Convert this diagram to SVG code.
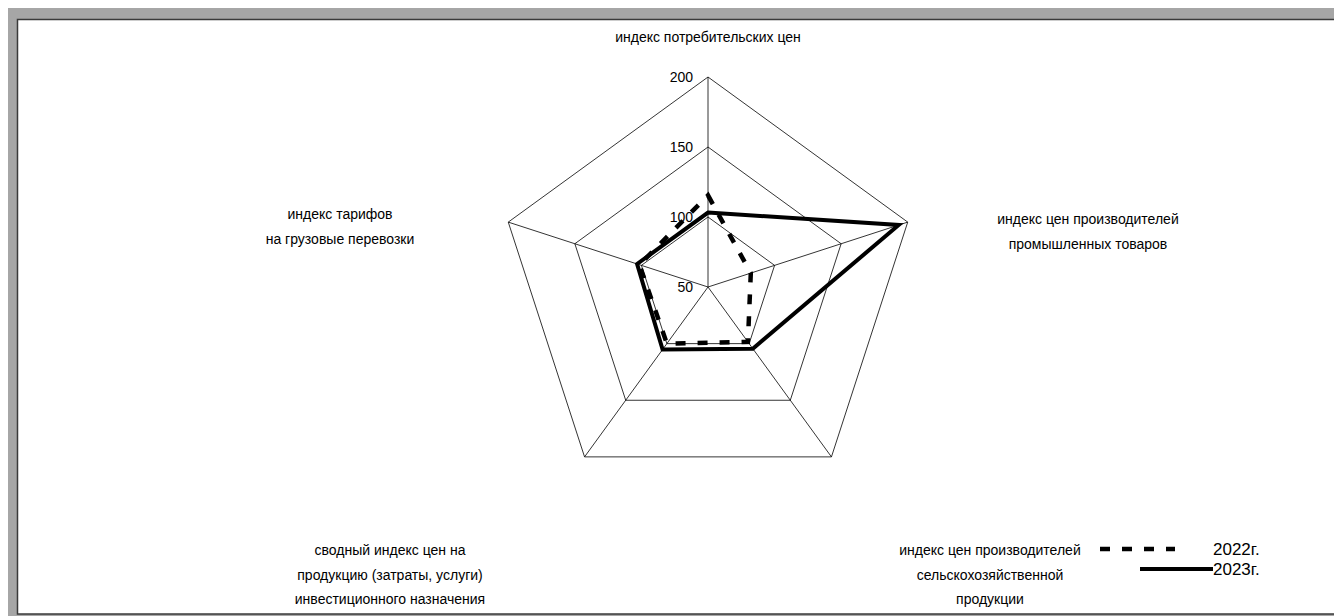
<svg xmlns="http://www.w3.org/2000/svg" width="1334" height="616" viewBox="0 0 1334 616">
<style>
text{font-family:"Liberation Sans",Arial,sans-serif;fill:#000}
.lbl{font-size:14px;text-anchor:middle}
.ax{font-size:14px;text-anchor:end}
.leg{font-size:17px}
.grid{fill:none;stroke:#000;stroke-width:0.8}
.s22{fill:none;stroke:#000;stroke-width:4.5;stroke-dasharray:10,12;stroke-linejoin:miter}
.s23{fill:none;stroke:#000;stroke-width:4;stroke-linejoin:miter}
</style>
<rect x="0" y="0" width="1334" height="616" fill="#fff"/>
<rect x="8" y="8" width="1326" height="608" fill="#a6a6a6"/>
<rect x="17.5" y="19.5" width="1320" height="594.5" fill="#fff" stroke="#3a3a3a" stroke-width="1.5"/>
<g id="grid">
<polygon class="grid" points="708,217 774.58,265.37 749.15,343.63 666.85,343.63 641.42,265.37"/>
<polygon class="grid" points="708,147 841.15,243.74 790.29,400.26 625.71,400.26 574.85,243.74"/>
<polygon class="grid" points="708,77 907.73,222.11 831.44,456.89 584.56,456.89 508.27,222.11"/>
<path class="grid" d="M708,287L708,77M708,287L907.73,222.11M708,287L831.44,456.89M708,287L584.56,456.89M708,287L508.27,222.11"/>
</g>
<g id="axis-labels">
<text class="ax" x="693" y="82">200</text>
<text class="ax" x="693" y="152">150</text>
<text class="ax" x="693" y="222">100</text>
<text class="ax" x="693" y="292">50</text>
</g>
<g id="connectors">
<polygon id="series-2022" class="s22" points="708,195.3 750.8,273.1 747.9,341.9 666.9,343.6 639.5,264.8"/>
<polygon id="series-2023" class="s23" points="708,212.6 898.7,225 752.8,348.7 662.6,349.5 637.1,264"/>
</g>
<g id="node-cpi"><text class="lbl" x="708" y="42">индекс потребительских цен</text></g>
<g id="node-industrial"><text class="lbl" x="1088" y="224">индекс цен производителей</text><text class="lbl" x="1088" y="249">промышленных товаров</text></g>
<g id="node-agri"><text class="lbl" x="990" y="555">индекс цен производителей</text><text class="lbl" x="990" y="580">сельскохозяйственной</text><text class="lbl" x="990" y="604">продукции</text></g>
<g id="node-invest"><text class="lbl" x="390" y="555">сводный индекс цен на</text><text class="lbl" x="390" y="580">продукцию (затраты, услуги)</text><text class="lbl" x="390" y="604">инвестиционного назначения</text></g>
<g id="node-freight"><text class="lbl" x="340" y="219">индекс тарифов</text><text class="lbl" x="340" y="244">на грузовые перевозки</text></g>
<g id="legend">
<line class="s22" x1="1100" y1="549" x2="1175" y2="549"/>
<text class="leg" x="1213" y="555">2022г.</text>
<line class="s23" x1="1140" y1="569" x2="1213" y2="569"/>
<text class="leg" x="1213" y="575">2023г.</text>
</g>
</svg>
